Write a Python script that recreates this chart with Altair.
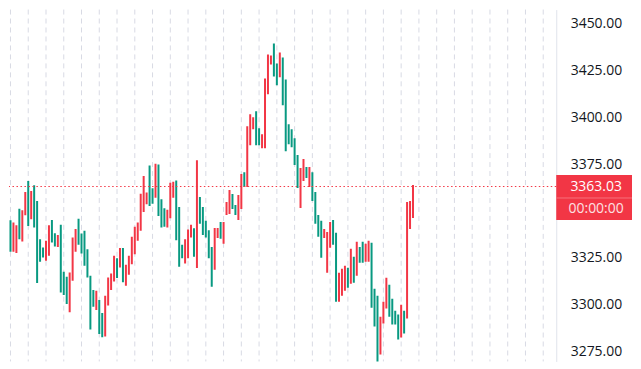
import altair as alt
import pandas as pd

# Candle highs / lows (price)
highs = [
    3345.0, 3343.8, 3342.4, 3351.2, 3350.4, 3360.1, 3366.0, 3360.6, 3363.7, 3355.3,
    3334.9, 3330.5, 3334.1, 3342.4, 3345.2, 3338.1, 3337.1, 3342.6, 3317.6, 3314.9,
    3317.2, 3335.8, 3340.3, 3345.9, 3337.9, 3339.4, 3329.6, 3315.4, 3307.8, 3307.4,
    3302.5, 3295.6, 3304.8, 3314.5, 3316.6, 3326.1, 3324.8, 3330.2, 3330.2, 3321.3,
    3326.1, 3336.2, 3341.5, 3343.8, 3359.2, 3368.6, 3359.9, 3374.3, 3362.1, 3375.2,
    3374.8, 3356.2, 3351.4, 3350.7, 3365.1, 3365.6, 3366.3, 3352.1, 3331.9, 3334.9,
    3340.1, 3342.6, 3340.8, 3377.1, 3357.4, 3352.1, 3344.7, 3339.7, 3330.8, 3340.9,
    3340.9, 3344.1, 3344.1, 3354.8, 3361.2, 3359.0, 3353.2, 3358.5, 3369.7, 3370.7,
    3395.2, 3401.6, 3400.0, 3403.2, 3394.1, 3390.9, 3420.7, 3433.5, 3433.0, 3439.4,
    3428.7, 3434.6, 3431.9, 3420.2, 3396.3, 3393.6, 3388.8, 3379.8, 3372.9, 3377.7,
    3373.4, 3373.4, 3370.7, 3360.1, 3347.9, 3344.7, 3340.4, 3338.8, 3344.1, 3345.2,
    3338.3, 3317.0, 3319.1, 3320.7, 3319.7, 3329.8, 3325.5, 3333.5, 3330.8, 3333.5,
    3332.5, 3334.1, 3333.0, 3308.5, 3304.8, 3293.6, 3301.6, 3314.4, 3310.6, 3303.2,
    3296.8, 3294.7, 3300.0, 3296.8, 3354.8, 3355.3, 3363.8,
]
lows = [
    3328.2, 3328.2, 3327.5, 3334.9, 3333.7, 3347.7, 3342.0, 3345.6, 3341.1, 3311.5,
    3322.9, 3325.2, 3323.4, 3326.1, 3333.1, 3331.0, 3330.8, 3306.5, 3305.2, 3300.4,
    3295.9, 3312.8, 3328.2, 3331.9, 3327.3, 3320.7, 3314.5, 3286.7, 3298.9, 3297.2,
    3284.4, 3282.6, 3283.0, 3299.5, 3307.8, 3312.4, 3314.2, 3319.8, 3311.9, 3310.1,
    3315.9, 3321.6, 3326.9, 3334.1, 3339.4, 3349.5, 3353.6, 3352.7, 3353.9, 3357.1,
    3347.3, 3341.1, 3341.5, 3341.1, 3346.1, 3357.1, 3334.4, 3320.2, 3324.8, 3322.0,
    3324.8, 3335.8, 3325.5, 3319.5, 3343.2, 3337.2, 3335.8, 3324.8, 3309.6, 3318.6,
    3335.6, 3335.1, 3332.5, 3347.9, 3348.4, 3351.1, 3347.9, 3345.2, 3351.1, 3362.8,
    3362.8, 3385.1, 3393.6, 3385.1, 3385.1, 3383.5, 3383.5, 3412.2, 3428.2, 3421.8,
    3417.0, 3421.3, 3406.4, 3381.9, 3385.6, 3384.0, 3374.5, 3362.2, 3351.6, 3366.0,
    3367.6, 3362.8, 3355.3, 3343.1, 3336.2, 3325.0, 3335.6, 3317.0, 3330.3, 3331.9,
    3301.6, 3301.6, 3304.8, 3307.4, 3309.0, 3311.2, 3311.7, 3315.4, 3322.3, 3322.3,
    3322.9, 3322.9, 3298.4, 3288.3, 3267.6, 3273.4, 3289.9, 3297.9, 3293.6, 3289.4,
    3289.4, 3281.4, 3282.5, 3284.6, 3292.6, 3340.4, 3346.3,
]
# R = rising candle (red), G = falling candle (green)
directions = list(
    "GRRGRRGRGG" "GGRRGGRGGG" "RRRGGGGGGR" "GGRRRRGRGR" "RRRRRRRGGR"
    "GGGRRRGGGR" "RRGRGGGGGR" "RGRRRGGRRG" "RRRGGRRRRG" "GRGGGGGGRR"
    "GRGGGGRRRG" "GRRRGRGRGG" "RRGGGRRRGG" "GGRGRRR"
)
price_ticks = [3275, 3300, 3325, 3375, 3400, 3425, 3450]
grid_positions = list(range(0, 181, 6))
last_price = 3363.03
last_price_label = "3363.03"
countdown_label = "00:00:00"

RED = "#F23645"
GREEN = "#089981"
FONT = "Open Sans"

df = pd.DataFrame({
    "i": list(range(len(highs))),
    "high": highs,
    "low": lows,
    "dir": directions,
})
last_df = pd.DataFrame({"p": [last_price], "label": [last_price_label], "timer": [countdown_label]})
grid_df = pd.DataFrame({"g": grid_positions})

xscale = alt.Scale(domain=[-0.5, 184.4], nice=False, zero=False)
yscale = alt.Scale(domain=[3269.7, 3457.45], nice=False, zero=False)

grid = alt.Chart(grid_df).mark_rule(color="#d8dae4", strokeDash=[5, 4], strokeWidth=1).encode(
    x=alt.X("g:Q", scale=xscale, axis=None)
)

candles = alt.Chart(df).mark_rule(strokeWidth=2, clip=True).encode(
    x=alt.X("i:Q", scale=xscale, axis=None),
    y=alt.Y(
        "low:Q",
        scale=yscale,
        axis=alt.Axis(
            orient="right", values=price_ticks, format=".2f", ticks=False, tickSize=0,
            grid=False, labelPadding=14, domainColor="#e0e3eb", domainWidth=1,
            labelFont=FONT, labelFontSize=14, labelColor="#131722", title=None,
        ),
    ),
    y2="high:Q",
    color=alt.Color("dir:N", scale=alt.Scale(domain=["R", "G"], range=[RED, GREEN]), legend=None),
)

last_line = alt.Chart(last_df).mark_rule(color=RED, strokeDash=[1.5, 2.5], strokeWidth=1).encode(
    y=alt.Y("p:Q", scale=yscale)
)

box = alt.Chart(last_df).mark_rect(color=RED, yOffset=-11.5, y2Offset=33.5).encode(
    x=alt.value(549), x2=alt.value(625), y=alt.Y("p:Q", scale=yscale), y2="p:Q"
)
sep = alt.Chart(last_df).mark_rule(color="#f6717c", strokeWidth=1, yOffset=11.5).encode(
    x=alt.value(549), x2=alt.value(625), y=alt.Y("p:Q", scale=yscale)
)
label1 = alt.Chart(last_df).mark_text(
    align="center", baseline="middle", color="white", fontSize=14, font=FONT
).encode(x=alt.value(589), y=alt.Y("p:Q", scale=yscale), text="label:N")
label2 = alt.Chart(last_df).mark_text(
    align="center", baseline="middle", color="#fde0e3", fontSize=14, font=FONT, dy=22.5
).encode(x=alt.value(589), y=alt.Y("p:Q", scale=yscale), text="timer:N")

chart = alt.layer(grid, candles, last_line, box, sep, label1, label2).properties(
    width=549, height=353, padding=0, background="white"
).configure_view(strokeWidth=0)

chart.save("out.html", embed_options={"renderer": "svg", "actions": False})
